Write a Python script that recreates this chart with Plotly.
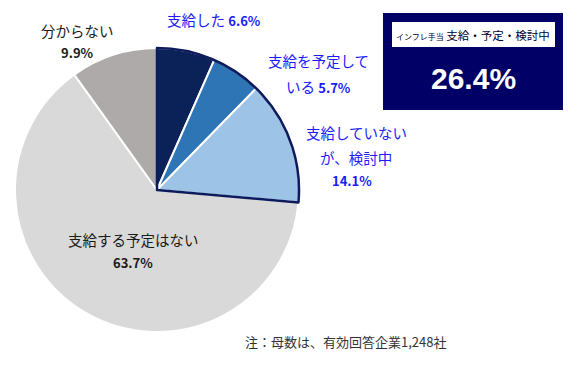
import plotly.graph_objects as go

W, H = 580, 365

categories = ["支給した", "支給を予定している", "支給していないが、検討中", "支給する予定はない", "分からない"]
values = [6.6, 5.7, 14.1, 63.7, 9.9]
colors = ["#0b2259", "#2e75b6", "#9dc3e6", "#d9d9d9", "#aeaaaa"]
group_values = [26.4, 73.6]
box_title_small = "インフレ手当"
box_title = "支給・予定・検討中"
box_value = "26.4%"
note = "注：母数は、有効回答企業1,248社"

def px(x):
    return x / W

def py(y):
    return 1 - y / H

cx, cy, r = 157, 190, 142
dom_x = [px(cx - r), px(cx + r)]
dom_y = [py(cy + r), py(cy - r)]

fig = go.Figure()
fig.add_trace(go.Pie(
    labels=categories, values=values, sort=False, direction="clockwise", rotation=0,
    marker=dict(colors=colors, line=dict(color="white", width=2)),
    textinfo="none", hoverinfo="label+percent", showlegend=False,
    domain=dict(x=dom_x, y=dom_y),
))
fig.add_trace(go.Pie(
    labels=["group", "rest"], values=group_values, sort=False, direction="clockwise", rotation=0,
    marker=dict(colors=["rgba(0,0,0,0)", "rgba(0,0,0,0)"],
                line=dict(color=["#0d1a5c", "rgba(0,0,0,0)"], width=[2.5, 0])),
    textinfo="none", hoverinfo="skip", showlegend=False,
    domain=dict(x=dom_x, y=dom_y),
))

FONT = "Noto Sans CJK JP, Meiryo, sans-serif"
BLUE = "#1a1aff"
BLACK = "#1a1a1a"

def ann(x, y, text, color, size=14.5, xanchor="center"):
    fig.add_annotation(x=px(x), y=py(y), xref="paper", yref="paper", text=text,
                       showarrow=False, xanchor=xanchor, yanchor="middle",
                       font=dict(family=FONT, size=size, color=color))

def num(v):
    return f"<b><span style='font-size:13px'>{v}%</span></b>"

ann(165, 19, f"{categories[0]} {num(values[0])}", BLUE, xanchor="left")
ann(318, 61, "支給を予定して", BLUE)
ann(318, 86, f"いる {num(values[1])}", BLUE)
ann(356, 133, "支給していない", BLUE)
ann(356, 157, "が、検討中", BLUE)
ann(352, 180, num(values[2]), BLUE)
ann(77, 31, categories[4], BLACK)
ann(77, 53, num(values[4]), BLACK)
ann(133, 239, categories[3], BLACK)
ann(133, 262, num(values[3]), BLACK)

# value box
fig.add_shape(type="rect", xref="paper", yref="paper", x0=px(383), x1=px(563), y0=py(110), y1=py(13),
              fillcolor="#000066", line=dict(width=0), layer="above")
fig.add_shape(type="rect", xref="paper", yref="paper", x0=px(392), x1=px(555), y0=py(47), y1=py(22),
              fillcolor="white", line=dict(width=0), layer="above")
fig.add_annotation(x=px(473), y=py(35), xref="paper", yref="paper",
                   text=f"<span style='font-size:8px'>{box_title_small}</span> {box_title}",
                   showarrow=False, xanchor="center", yanchor="middle",
                   font=dict(family=FONT, size=11.5, color="#000033"))
fig.add_annotation(x=px(473), y=py(78), xref="paper", yref="paper", text=f"<b>{box_value}</b>",
                   showarrow=False, xanchor="center", yanchor="middle",
                   font=dict(family="Liberation Sans, Arial, sans-serif", size=30, color="white"))

fig.add_annotation(x=px(243), y=py(341), xref="paper", yref="paper", text=note,
                   showarrow=False, xanchor="left", yanchor="middle",
                   font=dict(family="Noto Sans CJK JP, serif", size=13, color="#333333"))

fig.update_layout(width=W, height=H, margin=dict(l=0, r=0, t=0, b=0),
                  paper_bgcolor="white", plot_bgcolor="white")
fig.write_html("out.html", config={"displayModeBar": False},
               post_script="document.body.style.margin='0px';")
